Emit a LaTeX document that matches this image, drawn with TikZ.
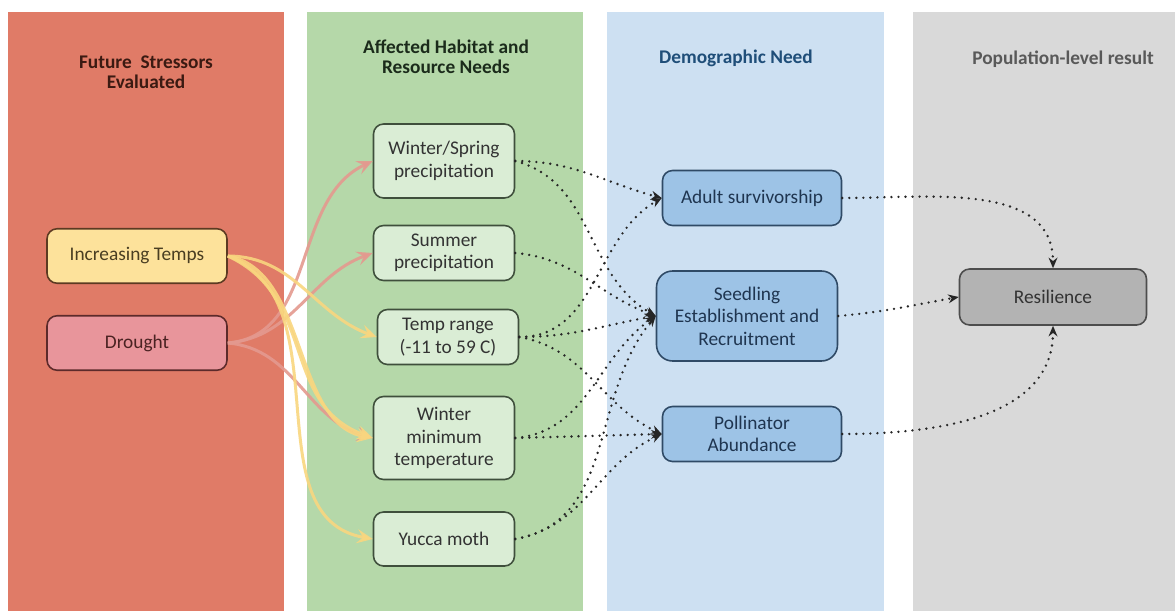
\documentclass[tikz,border=0pt]{standalone}
\usepackage{fontspec}
\setmainfont{Carlito}
\usetikzlibrary{arrows.meta}
\definecolor{pRed}{HTML}{E07B67}
\definecolor{pGreen}{HTML}{B5D8A9}
\definecolor{pBlue}{HTML}{CDE0F2}
\definecolor{pGray}{HTML}{D9D9D9}
\definecolor{hRed}{HTML}{3B1A12}
\definecolor{hGreen}{HTML}{1B2B1B}
\definecolor{hBlue}{HTML}{1F4E79}
\definecolor{hGray}{HTML}{595959}
\definecolor{itFill}{HTML}{FDE29B}
\definecolor{itDraw}{HTML}{5C3A22}
\definecolor{itText}{HTML}{4A3E22}
\definecolor{drFill}{HTML}{E8959B}
\definecolor{drDraw}{HTML}{5C2A2A}
\definecolor{drText}{HTML}{4A2222}
\definecolor{gFill}{HTML}{DAEDD5}
\definecolor{gDraw}{HTML}{3F4F3C}
\definecolor{bFill}{HTML}{9DC3E6}
\definecolor{bDraw}{HTML}{2F4A66}
\definecolor{bText}{HTML}{1F3550}
\definecolor{rFill}{HTML}{B3B3B3}
\definecolor{rDraw}{HTML}{4D4D4D}
\definecolor{yLine}{HTML}{F9D67F}
\definecolor{pLine}{HTML}{E4998F}
\begin{document}
\begin{tikzpicture}[x=0.02cm,y=-0.02cm,
  header/.style={font=\fontsize{11}{11.5}\selectfont\bfseries, align=center},
  box/.style={draw, rounded corners=0.2cm, line width=0.9pt, align=center,
    font=\fontsize{11}{12.8}\selectfont, inner sep=2pt},
  stressbox/.style={box, minimum width=3.6cm, minimum height=1.09cm},
  habbox/.style={box, fill=gFill, draw=gDraw, text=black!80, minimum width=2.82cm},
  dembox/.style={box, fill=bFill, draw=bDraw, text=bText, minimum width=3.58cm},
  stress/.style={line width=1.7pt, opacity=0.9,
    -{Stealth[length=9pt,width=8pt,inset=3.5pt]}},
  yarrow/.style={stress, draw=yLine},
  parrow/.style={stress, draw=pLine},
  dep/.style={line width=1.5pt, draw=black!85, dash pattern=on 0pt off 4pt,
    line cap=round, -{Stealth[length=6pt,width=5pt]}}]
\useasboundingbox (0,0) rectangle (1175,611);
\fill[white] (0,0) rectangle (1175,611);
% panels
\fill[pRed] (8,12) rectangle (284,611);
\fill[pGreen] (307,12) rectangle (583,611);
\fill[pBlue] (607,12) rectangle (884,611);
\fill[pGray] (913,12) rectangle (1175,611);
% headers
\node[header, text=hRed] (h1) at (146,72) {Future~ Stressors\\Evaluated};
\node[header, text=hGreen] (h2) at (446,57) {Affected Habitat and\\Resource Needs};
\node[header, text=hBlue] (h3) at (736,58) {Demographic Need};
\node[header, text=hGray] (h4) at (1063,59) {Population-level result};
% stressors
\node[stressbox, fill=itFill, draw=itDraw, text=itText] (it) at (137,256) {Increasing Temps};
\node[stressbox, fill=drFill, draw=drDraw, text=drText] (dr) at (137,343) {Drought};
% habitat
\node[habbox, minimum height=1.48cm] (ws) at (444,161) {Winter/Spring\\precipitation};
\node[habbox, minimum height=1.1cm] (su) at (444,253) {Summer\\precipitation};
\node[habbox, minimum height=1.1cm] (tr) at (448,337) {Temp range\\(-11 to 59 C)};
\node[habbox, minimum height=1.66cm] (wm) at (444,438) {Winter\\minimum\\temperature};
\node[habbox, minimum height=1.08cm] (ym) at (444,539) {Yucca moth};
% demographic
\node[dembox, minimum height=1.1cm] (ad) at (752,198) {Adult survivorship};
\node[dembox, minimum width=3.62cm, minimum height=1.8cm, rounded corners=0.32cm] (se) at (747,316) {Seedling\\Establishment and\\Recruitment};
\node[dembox, minimum height=1.1cm] (po) at (752,434) {Pollinator\\Abundance};
% result
\node[box, fill=rFill, draw=rDraw, text=black!80, minimum width=3.74cm, minimum height=1.12cm] (re) at (1053,297) {Resilience};
% stressor arrows
\draw[parrow] (dr.east) to[out=5,in=205] (ws.west);
\draw[parrow] (dr.east) to[out=5,in=200] (su.west);
\draw[parrow] (dr.east) to[out=-5,in=165] (wm.west);
\draw[yarrow] (it.east) to[out=0,in=160] (tr.west);
\draw[yarrow] (it.east) to[out=-10,in=170,looseness=0.9] (wm.west);
\draw[yarrow] (it.east) to[out=-25,in=160,looseness=1.1] (wm.west);
\draw[yarrow] (it.east) to[out=-20,in=170] (ym.west);
% dependency arrows
\draw[dep] (ws.east) to[out=0,in=165] (ad.west);
\draw[dep] (ws.east) to[out=-15,in=150] (se.west);
\draw[dep] (su.east) to[out=-5,in=160] (se.west);
\draw[dep] (tr.east) to[out=0,in=210] (ad.west);
\draw[dep] (tr.east) to[out=0,in=190] (se.west);
\draw[dep] (tr.east) to[out=-10,in=155] (po.west);
\draw[dep] (wm.east) to[out=5,in=215] (se.west);
\draw[dep] (wm.east) -- (po.west);
\draw[dep] (ym.east) to[out=10,in=230] (se.west);
\draw[dep] (ym.east) to[out=10,in=205] (po.west);
\draw[dep] (ad.east) to[out=0,in=90] (re.north);
\draw[dep] (se.east) to[out=5,in=190] (re.west);
\draw[dep] (po.east) to[out=0,in=-90] (re.south);
\end{tikzpicture}
\end{document}
